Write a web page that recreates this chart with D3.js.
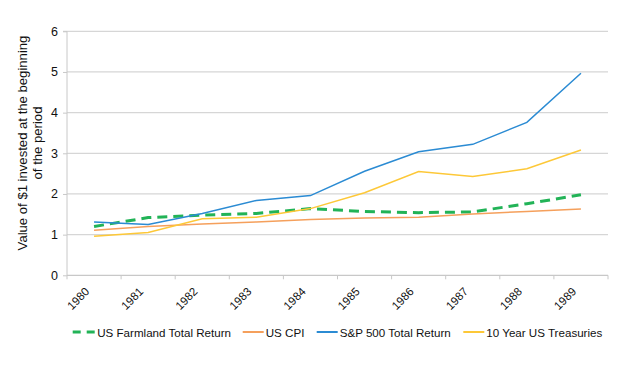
<!DOCTYPE html>
<html><head><meta charset="utf-8">
<script src="https://cdn.jsdelivr.net/npm/d3@7"></script>
<style>body{margin:0;background:#fff}svg{display:block}text{font-family:"Liberation Sans",Arial,sans-serif;fill:#111}</style>
</head><body><svg id="c" width="643" height="367"></svg>
<script>
const years = ["1980","1981","1982","1983","1984","1985","1986","1987","1988","1989"];
const farmland = [1.20,1.42,1.48,1.52,1.64,1.57,1.54,1.56,1.76,1.98];
const cpi = [1.11,1.20,1.26,1.31,1.37,1.41,1.43,1.51,1.57,1.63];
const sp500 = [1.31,1.25,1.52,1.84,1.96,2.56,3.04,3.22,3.76,4.97];
const treasuries = [0.96,1.05,1.39,1.43,1.64,2.03,2.55,2.43,2.62,3.08];
const yTicks = [0,1,2,3,4,5,6];
const seriesNames = ["US Farmland Total Return","US CPI","S&P 500 Total Return","10 Year US Treasuries"];
const yTitle = ["Value of $1 invested at the beginning","of the period"];

const series = [
  {name:seriesNames[0], values:farmland, color:"#22b357", width:3, dash:"10,6"},
  {name:seriesNames[1], values:cpi, color:"#f5a05c", width:1.5, dash:null},
  {name:seriesNames[2], values:sp500, color:"#2b8bd3", width:1.5, dash:null},
  {name:seriesNames[3], values:treasuries, color:"#fdc838", width:1.5, dash:null}
];

const svg = d3.select("#c");
const pL=67, pR=608, pT=31.3, pB=275.3;
const x = d3.scaleBand().domain(years).range([pL,pR]);
const y = d3.scaleLinear().domain([0,6]).range([pB,pT]);

// grid
svg.append("g").selectAll("line").data(yTicks.filter(d=>d>0)).join("line")
  .attr("x1",pL).attr("x2",pR).attr("y1",d=>y(d)).attr("y2",d=>y(d))
  .attr("stroke","#d6d6d6").attr("stroke-width",1.3);

// y axis
const ya = svg.append("g").attr("transform",`translate(${pL},0)`)
  .call(d3.axisLeft(y).tickValues(yTicks).tickSize(4).tickPadding(5).tickFormat(d3.format("d")));
ya.select(".domain").attr("stroke","#c8c8c8").attr("d",`M-4,${pT}H0V${pB}`);
ya.selectAll(".tick line").attr("stroke","#c8c8c8");
ya.selectAll(".tick text").attr("font-size",12.5).attr("font-family","Liberation Sans, Arial").attr("fill","#111");

// x axis
const xa = svg.append("g").attr("transform",`translate(0,${pB})`);
xa.append("line").attr("x1",pL).attr("x2",pR).attr("stroke","#c8c8c8").attr("stroke-width",1.3);
const bounds = years.map(d=>x(d)).concat([pR]);
xa.selectAll("line.tk").data(bounds).join("line").attr("class","tk")
  .attr("x1",d=>d).attr("x2",d=>d).attr("y1",0).attr("y2",4).attr("stroke","#c8c8c8");
xa.selectAll("text").data(years).join("text")
  .attr("transform",d=>`translate(${x(d)+x.bandwidth()/2-4},${17}) rotate(-45)`)
  .attr("text-anchor","end").attr("font-size",11.5).text(d=>d);

// lines
const line = d3.line().x((d,i)=>x(years[i])+x.bandwidth()/2).y(d=>y(d));
series.forEach(s=>{
  svg.append("path").datum(s.values).attr("d",line).attr("fill","none")
    .attr("stroke",s.color).attr("stroke-width",s.width)
    .attr("stroke-dasharray",s.dash);
});

// y title
const t = svg.append("text").attr("text-anchor","middle").attr("font-size",13);
const t1 = t.append("tspan").attr("x",0).attr("dy",0).text(yTitle[0]);
const len = t1.node().getComputedTextLength();
const fs = 13*215/len;
t.attr("font-size",fs).attr("transform",`translate(${27},143) rotate(-90)`);
t.append("tspan").attr("x",0).attr("dy",fs*1.12).text(yTitle[1]);

// legend
const legX = [72.7, 242.7, 316.7, 463.3];
const ly = 332;
const lg = series.map((s,i)=>{
  const g = svg.append("g").attr("transform",`translate(${legX[i]},${ly})`);
  g.append("line").attr("x1",0).attr("x2",s.dash?23:21).attr("y1",0).attr("y2",0)
    .attr("stroke",s.color).attr("stroke-width",s.dash?3:2).attr("stroke-dasharray",s.dash?"8,6":null);
  return g.append("text").attr("x",s.dash?24.5:23).attr("y",4.5).attr("font-size",12).text(s.name);
});
const lfs = 12*134/lg[0].node().getComputedTextLength();
lg.forEach(tx=>tx.attr("font-size",lfs));
</script></body></html>
